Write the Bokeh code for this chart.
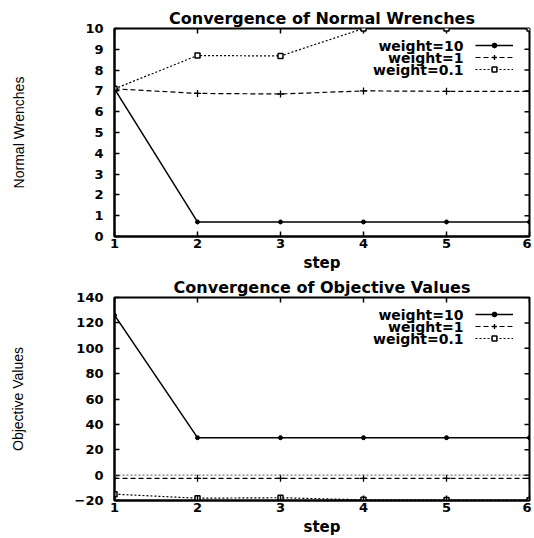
import math
from bokeh.plotting import figure
from bokeh.models import Range1d, FixedTicker, Legend, LegendItem, Label, Span
from bokeh.layouts import column
from bokeh.embed import file_html
from bokeh.resources import INLINE

# ---------------- data ----------------
steps = [1, 2, 3, 4, 5, 6]
series_labels = ["weight=10", "weight=1", "weight=0.1"]

wrench_w10 = [7.1, 0.7, 0.7, 0.7, 0.7, 0.7]
wrench_w1 = [7.1, 6.88, 6.85, 7.0, 6.98, 6.98]
wrench_w01 = [7.1, 8.7, 8.68, 10.0, 10.0, 10.0]

obj_w10 = [126, 29.5, 29.5, 29.5, 29.5, 29.5]
obj_w1 = [-2.5, -2.5, -2.5, -2.5, -2.5, -2.5]
obj_w01 = [-15, -18.2, -17.8, -19.5, -19.6, -19.8]

step_ticks = [1, 2, 3, 4, 5, 6]
wrench_ticks = [0, 1, 2, 3, 4, 5, 6, 7, 8, 9, 10]
obj_ticks = [-20, 0, 20, 40, 60, 80, 100, 120, 140]

# ---------------- styles ----------------
FONT = "DejaVu Sans"
YFONT = "Liberation Sans"
STYLES = [
    dict(dash="solid", lw=1.5, marker="circle", msize=4, fill="black", mlw=1),
    dict(dash="5 3", lw=1.2, marker="cross", msize=7, fill="black", mlw=1.3),
    dict(dash="2 2", lw=1.2, marker="square", msize=5, fill="white", mlw=1.5),
]

W = 531
LEFT = 114
RIGHT = 2
TICK = 5
ROW = 12


def style_axis(ax, ticks, standoff):
    ax.ticker = FixedTicker(ticks=ticks)
    ax.major_tick_in = TICK
    ax.major_tick_out = 0
    ax.minor_tick_in = 0
    ax.minor_tick_out = 0
    ax.major_tick_line_width = 1.5
    ax.major_tick_line_color = "black"
    ax.axis_line_width = 2
    ax.axis_line_color = "black"
    ax.major_label_text_font = FONT
    ax.major_label_text_font_style = "bold"
    ax.major_label_text_font_size = "13px"
    ax.major_label_text_color = "black"
    ax.major_label_standoff = standoff


def make_panel(title, ylabel, ys, y0, y1, yticks, height, top, bottom, ylab_standoff, zero=False):
    p = figure(width=W, height=height, output_backend="svg", toolbar_location=None,
               x_range=Range1d(1, 6), y_range=Range1d(y0, y1),
               min_border_left=LEFT, min_border_right=RIGHT,
               min_border_top=top, min_border_bottom=bottom)
    p.title.text = title
    p.title.align = "center"
    p.title.text_font = FONT
    p.title.text_font_style = "bold"
    p.title.text_font_size = "16px"
    p.title.text_color = "black"
    p.title.standoff = 2
    p.grid.visible = False
    p.outline_line_color = "black"
    p.outline_line_width = 2
    p.outline_line_alpha = 1

    xax = p.xaxis[0]
    yax = p.yaxis[0]
    style_axis(xax, step_ticks, 2)
    style_axis(yax, yticks, 11)
    xax.axis_label = "step"
    xax.axis_label_text_font = FONT
    xax.axis_label_text_font_style = "bold"
    xax.axis_label_text_font_size = "15px"
    xax.axis_label_text_color = "black"
    xax.axis_label_standoff = 3
    yax.axis_label = ylabel
    yax.axis_label_text_font = YFONT
    yax.axis_label_text_font_style = "normal"
    yax.axis_label_text_font_size = "14px"
    yax.axis_label_text_color = "black"
    yax.axis_label_standoff = ylab_standoff

    # mirrored inward ticks on the right and top edges
    p.ray(x=[6] * len(yticks), y=yticks, length=TICK, length_units="screen",
          angle=math.pi, line_color="black", line_width=1.5)
    p.ray(x=step_ticks, y=[y1] * len(step_ticks), length=TICK, length_units="screen",
          angle=-math.pi / 2, line_color="black", line_width=1.5)

    if zero:
        p.add_layout(Span(location=0, dimension="width", line_color="#555555",
                          line_dash="2 2", line_width=1))

    items = []
    for i, (yv, st) in enumerate(zip(ys, STYLES)):
        lr = p.line(steps, yv, line_color="black", line_width=st["lw"], line_dash=st["dash"])
        mr = p.scatter(steps, yv, marker=st["marker"], size=st["msize"], line_color="black",
                       fill_color=st["fill"], line_width=st["mlw"])
        items.append(LegendItem(label=" ", renderers=[lr, mr]))
        p.add_layout(Label(x=6, y=y1, x_offset=-66, y_offset=-(17 + ROW * i),
                           text=series_labels[i], text_align="right", text_baseline="middle",
                           text_font=FONT, text_font_style="bold", text_font_size="14px",
                           text_color="black"))
    leg = Legend(items=items, location="top_right", margin=11, padding=0, spacing=0,
                 glyph_width=38, glyph_height=ROW, label_standoff=5, label_width=0,
                 label_height=ROW, label_text_font_size="1px",
                 background_fill_alpha=0, border_line_alpha=0)
    p.add_layout(leg, "center")
    return p


p1 = make_panel("Convergence of Normal Wrenches", "Normal Wrenches",
                [wrench_w10, wrench_w1, wrench_w01], 0, 10, wrench_ticks,
                274, 28, 38, 55)
p2 = make_panel("Convergence of Objective Values", "Objective Values",
                [obj_w10, obj_w1, obj_w01], -20, 140, obj_ticks,
                264, 21, 36, 46, zero=True)

layout = column(p1, p2, spacing=0)
open("out.html", "w").write(file_html(layout, INLINE))
